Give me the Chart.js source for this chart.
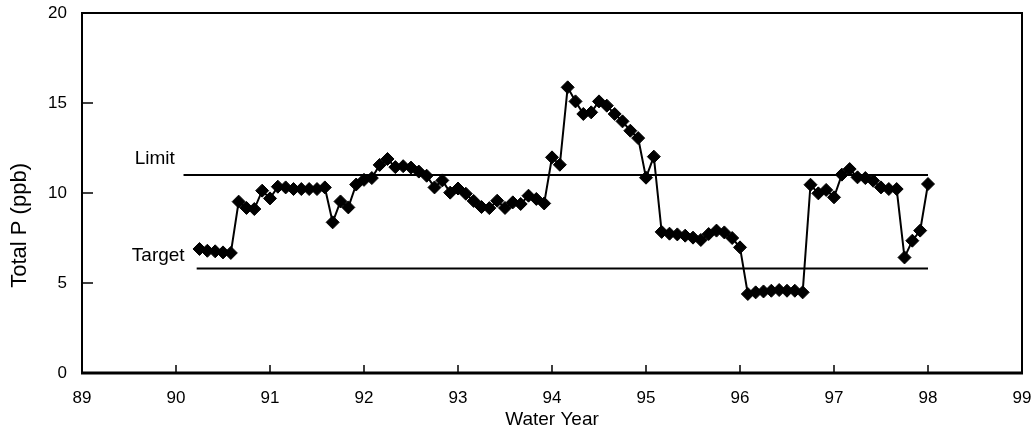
<!DOCTYPE html>
<html>
<head>
<meta charset="utf-8">
<script src="https://cdn.jsdelivr.net/npm/chart.js@4/dist/chart.umd.min.js"></script>
<style>
  body { margin: 0; background: #fff; }
  canvas { display: block; }
</style>
</head>
<body>
<canvas id="tpChart" width="1034" height="435"></canvas>
<script>
// monthly samples, first one in April of water year 90
let firstMonth = 90.25;
let totalP = [
  6.89, 6.79, 6.76, 6.70, 6.67, 9.52, 9.17, 9.11, 10.13, 9.70,
  10.35, 10.31, 10.22, 10.22, 10.22, 10.22, 10.31, 8.37, 9.53, 9.20,
  10.47, 10.73, 10.83, 11.56, 11.89, 11.44, 11.49, 11.41, 11.19, 10.96,
  10.31, 10.70, 10.02, 10.25, 9.96, 9.56, 9.22, 9.16, 9.57, 9.17,
  9.48, 9.39, 9.85, 9.67, 9.42, 11.98, 11.57, 15.87, 15.09, 14.39,
  14.48, 15.09, 14.85, 14.39, 13.98, 13.46, 13.05, 10.85, 12.02, 7.84,
  7.74, 7.70, 7.63, 7.52, 7.39, 7.72, 7.91, 7.81, 7.50, 6.98,
  4.39, 4.48, 4.53, 4.57, 4.61, 4.57, 4.57, 4.48, 10.46, 9.98,
  10.17, 9.76, 11.02, 11.33, 10.87, 10.83, 10.68, 10.31, 10.22, 10.22,
  6.42, 7.35, 7.91, 10.50,
];

let limitYears = [90.08, 98];
let limitValue = 11;
let targetYears = [90.22, 98];
let targetValue = 5.8;

let yearTicks = [89, 90, 91, 92, 93, 94, 95, 96, 97, 98, 99];
let pTicks = [0, 5, 10, 15, 20];

let fontName = '"Liberation Sans", Arial, sans-serif';

let seriesPoints = [];
totalP.forEach(function (value, index) {
  seriesPoints.push({ x: firstMonth + index / 12, y: value });
});

// frame, inward ticks, y title and the Limit / Target words
const framePlugin = {
  id: "framePlugin",
  afterDraw(chart) {
    const { ctx, chartArea: a } = chart;
    const xs = chart.scales.x;
    const ys = chart.scales.y;
    ctx.save();
    ctx.strokeStyle = "#000";
    ctx.lineWidth = 1.5;
    ctx.beginPath();
    yearTicks.forEach(function (t) {
      let px = xs.getPixelForValue(t);
      ctx.moveTo(px, a.bottom);
      ctx.lineTo(px, a.bottom - 8);
    });
    pTicks.forEach(function (t) {
      let py = ys.getPixelForValue(t);
      ctx.moveTo(a.left, py);
      ctx.lineTo(a.left + 11, py);
    });
    ctx.stroke();

    ctx.lineWidth = 2;
    ctx.strokeRect(a.left, a.top, a.right - a.left, a.bottom - a.top);
    ctx.lineWidth = 3;
    ctx.beginPath();
    ctx.moveTo(a.left - 1, a.bottom);
    ctx.lineTo(a.right + 1, a.bottom);
    ctx.stroke();

    ctx.fillStyle = "#000";
    ctx.font = "19px " + fontName;
    ctx.textBaseline = "alphabetic";
    ctx.textAlign = "left";
    ctx.fillText("Limit", xs.getPixelForValue(89.56), ys.getPixelForValue(11.63));
    ctx.fillText("Target", xs.getPixelForValue(89.53), ys.getPixelForValue(6.24));

    // y title sits a bit below the middle in the original
    ctx.font = "22px " + fontName;
    ctx.textAlign = "center";
    ctx.textBaseline = "middle";
    ctx.translate(20, ys.getPixelForValue(8.2));
    ctx.rotate(-Math.PI / 2);
    ctx.fillText("Total P (ppb)", 0, 0);
    ctx.restore();
  },
};

const data = {
  datasets: [
    {
      label: "Total P",
      data: seriesPoints,
      borderColor: "#000",
      backgroundColor: "#000",
      borderWidth: 2,
      pointStyle: "rectRot",
      pointRadius: 6.5,
      pointBorderWidth: 1,
      pointBackgroundColor: "#000",
      pointBorderColor: "#000",
      order: 0,
    },
    {
      label: "Limit",
      data: limitYears.map(function (yr) { return { x: yr, y: limitValue }; }),
      borderColor: "#000",
      borderWidth: 2,
      pointRadius: 0,
      order: 1,
    },
    {
      label: "Target",
      data: targetYears.map(function (yr) { return { x: yr, y: targetValue }; }),
      borderColor: "#000",
      borderWidth: 2,
      pointRadius: 0,
      order: 1,
    },
  ],
};

const config = {
  type: "line",
  data: data,
  options: {
    responsive: false,
    animation: false,
    layout: { padding: { top: 13, right: 12, left: 0, bottom: 0 } },
    plugins: {
      legend: { display: false },
      tooltip: { enabled: false },
    },
    scales: {
      x: {
        type: "linear",
        min: 89,
        max: 99,
        afterBuildTicks: function (scale) {
          scale.ticks = yearTicks.map(function (v) { return { value: v }; });
        },
        ticks: {
          color: "#000",
          font: { family: fontName, size: 17 },
          padding: 15,
          maxRotation: 0,
          autoSkip: false,
        },
        grid: { display: false, drawTicks: false },
        border: { display: false },
        title: {
          display: true,
          text: "Water Year",
          color: "#000",
          font: { family: fontName, size: 19 },
          padding: { top: 0, bottom: 4 },
        },
        afterFit: function (scale) {
          scale.height = 62;
          scale.paddingLeft = 0;
          scale.paddingRight = 0;
        },
      },
      y: {
        type: "linear",
        min: 0,
        max: 20,
        afterBuildTicks: function (scale) {
          scale.ticks = pTicks.map(function (v) { return { value: v }; });
        },
        ticks: {
          color: "#000",
          font: { family: fontName, size: 17 },
          padding: 15,
        },
        grid: { display: false, drawTicks: false },
        border: { display: false },
        afterFit: function (scale) {
          scale.width = 82;
          scale.paddingTop = 0;
          scale.paddingBottom = 0;
        },
      },
    },
  },
  plugins: [framePlugin],
};

const myChart = new Chart(document.getElementById("tpChart"), config);
</script>
</body>
</html>
